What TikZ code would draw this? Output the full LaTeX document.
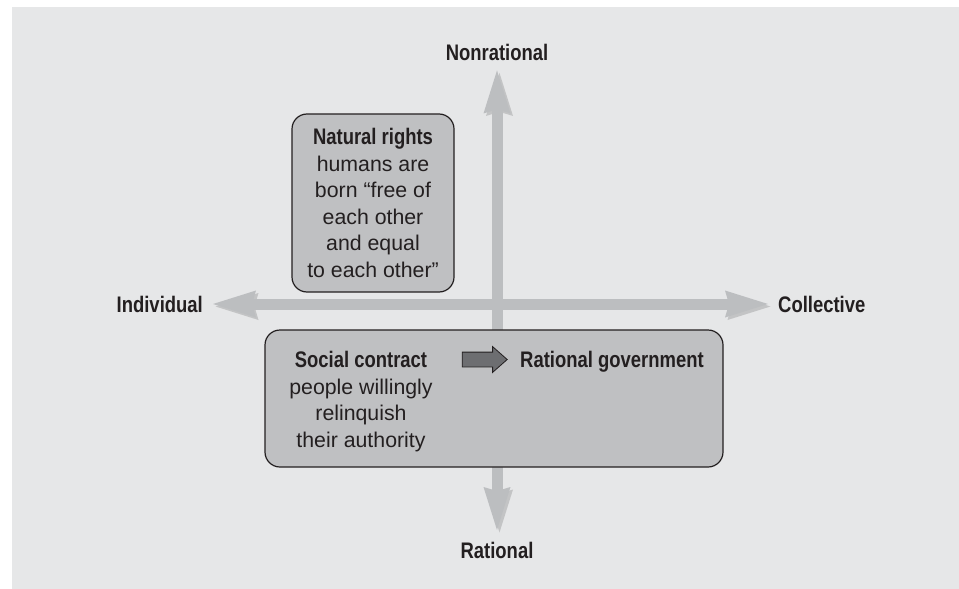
\documentclass[tikz,border=0pt]{standalone}
\usepackage{fontspec}
\setmainfont{Liberation Sans}
\newfontface\headfont[FakeStretch=0.82]{Liberation Sans Bold}
\usepackage{xcolor}
\usepackage{tikz}
\usetikzlibrary{arrows.meta, shapes.arrows, positioning}

\definecolor{panelgray}{HTML}{E6E7E8}
\definecolor{axisgray}{HTML}{BCBEC0}
\definecolor{boxgray}{HTML}{BFC0C2}
\definecolor{inkgray}{HTML}{231F20}
\definecolor{arrowdark}{HTML}{6D6E71}

\newcommand{\headline}[1]{{\headfont\fontsize{22.5}{26.5}\selectfont #1}}

\begin{document}
\begin{tikzpicture}[x=1pt, y=-1pt,
    axislabel/.style={font=\headfont\fontsize{22.5}{26.5}\selectfont, text=inkgray, inner sep=0pt},
    axis/.style={draw=axisgray, line width=11pt,
        {Stealth[length=43pt, width=27pt, inset=4pt, line width=0pt]}-{Stealth[length=43pt, width=27pt, inset=4pt, line width=0pt]},
        preaction={draw=black, opacity=0.15, transform canvas={shift={(2.5pt,-2.5pt)}}}},
    box/.style={draw=inkgray, line width=1.2pt, fill=boxgray, rounded corners=15pt},
    bodytext/.style={font=\fontsize{21.3}{26.5}\selectfont, text=inkgray, align=center, inner sep=0pt}
]

% Panel
\useasboundingbox (0,0) rectangle (959,589);
\fill[panelgray] (12,7) rectangle (959,589);

% Axis labels
\node[axislabel, anchor=base] (nonrat) at (497,60) {Nonrational};
\node[axislabel, anchor=north] (rat) at (497,542) {Rational};
\node[axislabel, anchor=east] (indiv) at (203,304) {Individual};
\node[axislabel, anchor=west] (coll) at (778,304) {Collective};

% Axes
\draw[axis, shorten <=12pt, shorten >=10pt] (rat.north) -- (nonrat.south);
\draw[axis, shorten <=10pt, shorten >=10pt] (indiv.east) -- (coll.west);

% Natural rights
\node[box, bodytext, minimum width=162pt, minimum height=178pt] (natural) at (373,203)
    {\headline{Natural rights}\\humans are\\born “free of\\each other\\and equal\\to each other”};

% Social contract
\node[box, minimum width=458pt, minimum height=137pt] (contract) at (494,398.5) {};
\node[bodytext, anchor=north] (social) at (361,351)
    {\headline{Social contract}\\people willingly\\relinquish\\their authority};
\node[bodytext, anchor=base west] (govt) at (520,367) {\headline{Rational government}};
\node[single arrow, draw=inkgray, line width=0.8pt, fill=arrowdark, inner xsep=0pt, inner ysep=7pt,
    minimum height=45pt, single arrow head extend=5.5pt, single arrow tip angle=83] (toarrow) at (480.5,359.5) {};

\end{tikzpicture}
\end{document}
